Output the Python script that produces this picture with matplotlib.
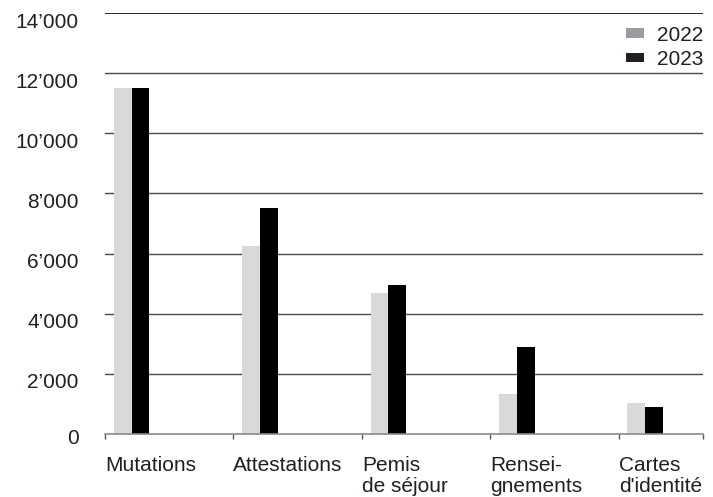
import matplotlib
matplotlib.use("Agg")
import matplotlib.pyplot as plt
from matplotlib.patches import Patch
from matplotlib.transforms import ScaledTranslation
import numpy as np

categories = ["Mutations", "Attestations", "Pemis\nde séjour",
              "Rensei-\ngnements", "Cartes\nd'identité"]
values_2022 = [11500, 6250, 4680, 1340, 1030]
values_2023 = [11500, 7530, 4970, 2880, 890]
y_ticks = [0, 2000, 4000, 6000, 8000, 10000, 12000, 14000]
y_labels = ["0", "2’000", "4’000", "6’000", "8’000",
            "10’000", "12’000", "14’000"]

plt.rcParams["font.family"] = ["Liberation Sans", "DejaVu Sans"]
text_color = "#231f20"
font_size = 15

fig = plt.figure(figsize=(7.13, 4.97), dpi=100)
ax = fig.add_axes([105 / 713, (497 - 434) / 497,
                   598 / 713, 421 / 497])

x = np.arange(len(categories))
offset = 0.069
width = 0.138
ax.bar(x + offset, values_2022, width, align="edge",
       color="#d9d9d9", zorder=3)
ax.bar(x + offset + width, values_2023, width, align="edge",
       color="#000000", zorder=3)

x_max = 4.657
ax.set_xlim(0, x_max)
ax.set_ylim(0, 14000)

for value in y_ticks[1:-1]:
    ax.axhline(value, color="#4a4a4a", linewidth=1, zorder=1)
ax.axhline(14000, color="#000000", linewidth=1.2, zorder=1)

for side in ["top", "right", "left"]:
    ax.spines[side].set_visible(False)
ax.spines["bottom"].set_color("#8a8a8a")
ax.spines["bottom"].set_linewidth(1.2)
ax.spines["bottom"].set_zorder(4)

ax.set_xticks(list(x) + [x_max])
ax.set_xticklabels(categories + [""], ha="left", va="top",
                   fontsize=font_size, color=text_color,
                   linespacing=1.1)
ax.tick_params(axis="x", length=3.6, width=1, color="#555555", pad=12.5)

ax.set_yticks(y_ticks)
ax.set_yticklabels(y_labels, fontsize=font_size, color=text_color)
ax.tick_params(axis="y", length=0, pad=19)
for label, value in zip(ax.get_yticklabels(), y_ticks):
    shift = -2 if value == 0 else -7
    label.set_transform(label.get_transform()
                        + ScaledTranslation(0, shift / 100,
                                            fig.dpi_scale_trans))

handles = [Patch(facecolor="#9c9ca0", label="2022"),
           Patch(facecolor="#231f20", label="2023")]
legend = ax.legend(handles=handles, loc="upper right",
                   bbox_to_anchor=(1.0, 0.97), frameon=False,
                   fontsize=font_size, handlelength=0.82,
                   handleheight=0.34, handletextpad=0.63,
                   labelspacing=0.25, borderaxespad=0, borderpad=0)
for text in legend.get_texts():
    text.set_color(text_color)

fig.savefig("out.png", dpi=100)
